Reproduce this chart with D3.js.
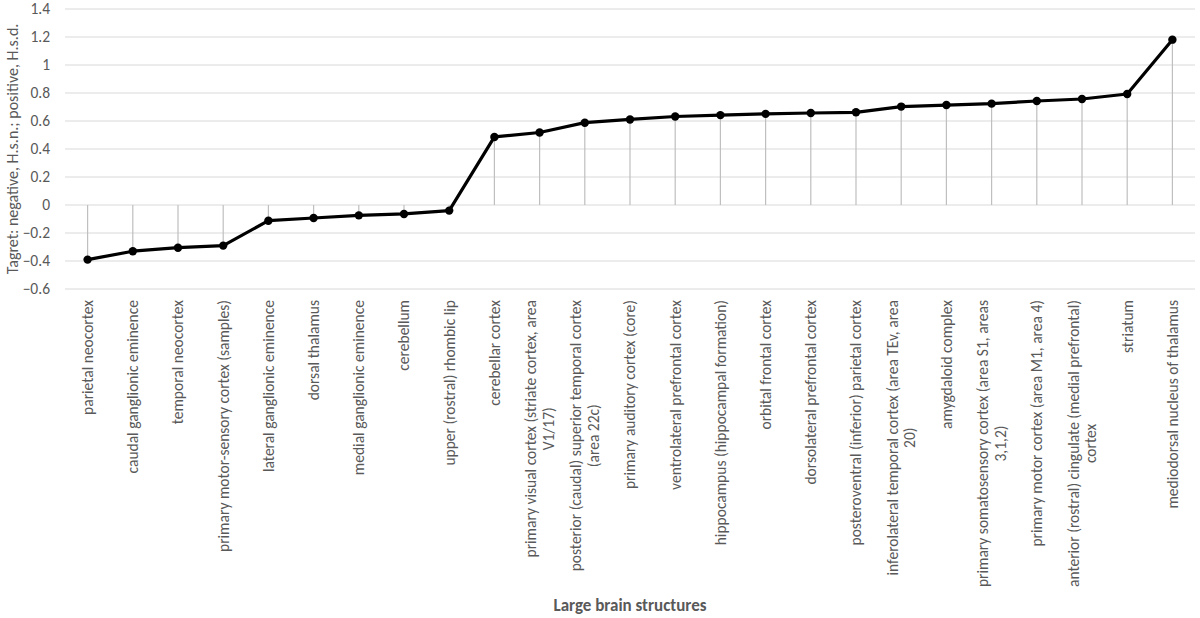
<!DOCTYPE html>
<html>
<head>
<meta charset="utf-8">
<script src="https://cdn.jsdelivr.net/npm/d3@7"></script>
<style>
    body { margin: 0; background: #fff; }
    text { font-family: Carlito, Lato, "Open Sans", sans-serif; }
</style>
</head>
<body>
<script>
(function () {

    // Categories (line breaks as in the original labels)
    var categories = [
        "parietal neocortex",
        "caudal ganglionic eminence",
        "temporal neocortex",
        "primary motor-sensory cortex (samples)",
        "lateral ganglionic eminence",
        "dorsal thalamus",
        "medial ganglionic eminence",
        "cerebellum",
        "upper (rostral) rhombic lip",
        "cerebellar cortex",
        "primary visual cortex (striate cortex, area\nV1/17)",
        "posterior (caudal) superior temporal cortex\n(area 22c)",
        "primary auditory cortex (core)",
        "ventrolateral prefrontal cortex",
        "hippocampus (hippocampal formation)",
        "orbital frontal cortex",
        "dorsolateral prefrontal cortex",
        "posteroventral (inferior) parietal cortex",
        "inferolateral temporal cortex (area TEv, area\n20)",
        "amygdaloid complex",
        "primary somatosensory cortex (area S1, areas\n3,1,2)",
        "primary motor cortex (area M1, area 4)",
        "anterior (rostral) cingulate (medial prefrontal)\ncortex",
        "striatum",
        "mediodorsal nucleus of thalamus"
    ];

    // Values
    var values = [-0.39, -0.33, -0.305, -0.29, -0.112, -0.093, -0.074, -0.064, -0.04,
        0.486, 0.518, 0.588, 0.611, 0.632, 0.642, 0.651, 0.657, 0.662,
        0.703, 0.714, 0.724, 0.743, 0.757, 0.793, 1.181];

    // Y tick labels
    var yTicks = [-0.6, -0.4, -0.2, 0, 0.2, 0.4, 0.6, 0.8, 1, 1.2, 1.4];

    var textColor = "#595959";
    var gridColor = "#d9d9d9";
    var dropColor = "#bfbfbf";

    var margin = {top: 9, right: 5, bottom: 329, left: 65},
        width = 1200 - margin.left - margin.right,
        height = 618 - margin.top - margin.bottom;

    var svg = d3.select("body")
        .append("svg")
        .attr("width", 1200)
        .attr("height", 618)
        .append("g")
        .attr("transform", "translate(" + margin.left + "," + margin.top + ")");

    var x = d3.scaleBand()
        .domain(categories)
        .range([0, width]);

    var y = d3.scaleLinear()
        .domain([-0.6, 1.4])
        .range([height, 0]);

    function cx(d, i) { return x(categories[i]) + x.bandwidth() / 2; }

    // Gridlines
    svg.append("g")
        .selectAll("line")
        .data(yTicks)
        .enter().append("line")
        .attr("x1", 0)
        .attr("x2", width)
        .attr("y1", function (d) { return y(d); })
        .attr("y2", function (d) { return y(d); })
        .attr("stroke", gridColor)
        .attr("stroke-width", 1);

    // Y tick labels
    svg.append("g")
        .selectAll("text")
        .data(yTicks)
        .enter().append("text")
        .attr("x", -15)
        .attr("y", function (d) { return y(d); })
        .attr("dy", "0.35em")
        .attr("text-anchor", "end")
        .style("font-size", "15.5px")
        .style("fill", textColor)
        .text(function (d) { return d3.format("")(d); });

    // Drop lines from zero
    svg.append("g")
        .selectAll("line")
        .data(values)
        .enter().append("line")
        .attr("x1", cx)
        .attr("x2", cx)
        .attr("y1", y(0))
        .attr("y2", function (d) { return y(d); })
        .attr("stroke", dropColor)
        .attr("stroke-width", 1.2);

    // Line
    svg.append("path")
        .datum(values)
        .attr("fill", "none")
        .attr("stroke", "#000")
        .attr("stroke-width", 3.2)
        .attr("stroke-linejoin", "round")
        .attr("d", d3.line()
            .x(cx)
            .y(function (d) { return y(d); }));

    // Markers
    svg.append("g")
        .selectAll("circle")
        .data(values)
        .enter().append("circle")
        .attr("cx", cx)
        .attr("cy", function (d) { return y(d); })
        .attr("r", 4.2)
        .attr("fill", "#000");

    // Category labels, rotated and wrapped
    var lh = 17.5;
    var labels = svg.append("g")
        .selectAll("g")
        .data(categories)
        .enter().append("g")
        .attr("transform", function (d, i) {
            return "translate(" + cx(d, i) + "," + (height + 11) + ") rotate(-90)";
        });

    labels.each(function (d) {
        var g = d3.select(this);
        var lines = d.split("\n");
        var t = g.append("text")
            .attr("text-anchor", "middle")
            .style("font-size", "15.5px")
            .style("fill", textColor);
        lines.forEach(function (s, k) {
            t.append("tspan")
                .attr("x", 0)
                .attr("y", (k - (lines.length - 1) / 2) * lh)
                .attr("dy", "0.35em")
                .text(s);
        });
        var maxW = 0;
        t.selectAll("tspan").each(function () {
            maxW = Math.max(maxW, this.getComputedTextLength());
        });
        t.selectAll("tspan").attr("x", -maxW / 2);
    });

    // Y axis title
    svg.append("text")
        .attr("transform", "translate(" + (12 - margin.left) + "," + (height / 2) + ") rotate(-90)")
        .attr("dy", "0.35em")
        .attr("text-anchor", "middle")
        .style("font-size", "16px")
        .style("fill", textColor)
        .text("Tagret: negative, H.s.n.; positive, H.s.d.");

    // X axis title
    svg.append("text")
        .attr("x", width / 2)
        .attr("y", 605 - margin.top)
        .attr("dy", "0.35em")
        .attr("text-anchor", "middle")
        .style("font-size", "17px")
        .style("font-weight", "bold")
        .style("fill", textColor)
        .text("Large brain structures");

})();
</script>
</body>
</html>
